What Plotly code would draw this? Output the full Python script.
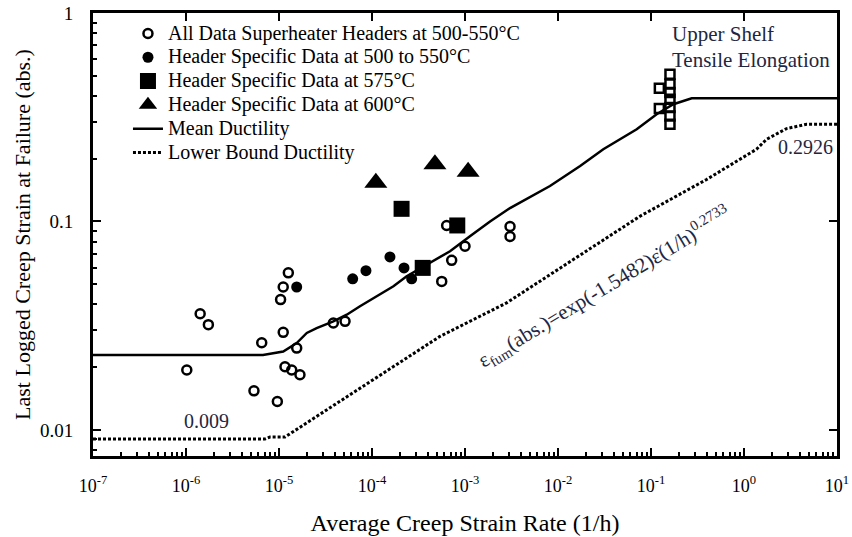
import numpy as np
import plotly.graph_objects as go

# ---------------- data ----------------
all_x = [1.02e-6, 1.42e-6, 1.74e-6, 5.38e-6, 6.52e-6, 9.6e-6, 1.26e-5, 1.11e-5, 1.04e-5,
         1.11e-5, 1.55e-5, 1.16e-5, 1.37e-5, 1.68e-5, 3.84e-5, 5.13e-5, 6.35e-4, 1.0e-3,
         7.19e-4, 5.62e-4, 3.05e-3, 3.05e-3]
all_y = [0.0194, 0.0361, 0.0320, 0.0154, 0.0262, 0.0137, 0.0567, 0.0485, 0.0422,
         0.0294, 0.0247, 0.0201, 0.0194, 0.0184, 0.0326, 0.0332, 0.0957, 0.0761,
         0.0651, 0.0516, 0.0946, 0.0847]

hs550_x = [1.55e-5, 6.20e-5, 8.61e-5, 1.56e-4, 2.21e-4, 2.67e-4]
hs550_y = [0.0485, 0.0531, 0.0581, 0.0676, 0.0599, 0.0531]

hs575_x = [2.08e-4, 8.26e-4, 3.51e-4]
hs575_y = [0.115, 0.0957, 0.0599]

hs600_x = [1.10e-4, 4.75e-4, 1.08e-3]
hs600_y = [0.1535, 0.188, 0.173]

shelf_x = [0.160, 0.160, 0.160, 0.160, 0.160, 0.160, 0.160, 0.123, 0.123]
shelf_y = [0.509, 0.456, 0.416, 0.386, 0.352, 0.321, 0.293, 0.435, 0.348]

mean_x = [1e-7, 6.73e-6, 1.11e-5, 1.55e-5, 1.99e-5, 2.54e-5, 3.84e-5, 5.35e-5, 7.43e-5,
          1.12e-4, 1.70e-4, 2.36e-4, 3.87e-4, 6.90e-4, 1.13e-3, 1.86e-3, 3.05e-3,
          8.20e-3, 0.0173, 0.0307, 0.0702, 0.115, 0.174, 0.274, 10]
mean_y = [0.0229, 0.0229, 0.0238, 0.0261, 0.0292, 0.0308, 0.0332, 0.0357, 0.0392,
          0.0438, 0.0489, 0.0546, 0.0621, 0.0720, 0.0849, 0.100, 0.116,
          0.148, 0.1845, 0.222, 0.277, 0.327, 0.365, 0.390, 0.390]

low_x = [1e-7, 7.06e-6, 8.0e-6, 1.16e-5, 4.72e-5, 5.38e-4, 2.80e-3, 0.0146, 0.0762,
         0.396, 1.36, 1.75, 2.87, 4.72, 10]
low_y = [0.00905, 0.00905, 0.00925, 0.00925, 0.0139, 0.0281, 0.0407, 0.0656, 0.106,
         0.159, 0.222, 0.248, 0.279, 0.2926, 0.2926]

x_tickvals = [1e-7, 1e-6, 1e-5, 1e-4, 1e-3, 1e-2, 1e-1, 1e0, 1e1]
x_ticktext = ["10<sup>-7</sup>", "10<sup>-6</sup>", "10<sup>-5</sup>", "10<sup>-4</sup>",
              "10<sup>-3</sup>", "10<sup>-2</sup>", "10<sup>-1</sup>", "10<sup>0</sup>",
              "10<sup>1</sup>"]
y_tickvals = [0.01, 0.1, 1]
y_ticktext = ["0.01", "0.1", "1"]

x_minor = [m * 10.0 ** e for e in range(-7, 1) for m in range(2, 10)]
y_minor = [m * 10.0 ** e for e in range(-3, 0) for m in range(2, 10)]

legend_names = ["All Data Superheater Headers at 500-550°C",
                "Header Specific Data at 500 to 550°C",
                "Header Specific Data at 575°C",
                "Header Specific Data at 600°C",
                "Mean Ductility",
                "Lower Bound Ductility"]

FONT = "Liberation Serif"
TXT = "#1f2740"


def lg(name):
    return '<span style="font-size:20px">' + name + '</span>'


fig = go.Figure()
fig.add_trace(go.Scatter(x=all_x, y=all_y, mode="markers", name=lg(legend_names[0]),
                         marker=dict(symbol="circle-open", size=9, color="black",
                                     line=dict(width=2.5, color="black"))))
fig.add_trace(go.Scatter(x=hs550_x, y=hs550_y, mode="markers", name=lg(legend_names[1]),
                         marker=dict(symbol="circle", size=11, color="black")))
fig.add_trace(go.Scatter(x=hs575_x, y=hs575_y, mode="markers", name=lg(legend_names[2]),
                         marker=dict(symbol="square", size=16, color="black")))
fig.add_trace(go.Scatter(x=hs600_x, y=hs600_y, mode="markers", name=lg(legend_names[3]),
                         marker=dict(symbol="triangle-up", size=20, color="black")))
fig.add_trace(go.Scatter(x=mean_x, y=mean_y, mode="lines", name=lg(legend_names[4]),
                         line=dict(color="black", width=2.5)))
fig.add_trace(go.Scatter(x=low_x, y=low_y, mode="lines", name=lg(legend_names[5]),
                         line=dict(color="black", width=3, dash="3px,2px")))
fig.add_trace(go.Scatter(x=shelf_x, y=shelf_y, mode="markers", showlegend=False,
                         marker=dict(symbol="square-open", size=9, color="black",
                                     line=dict(width=2.5, color="black"))))
# invisible trace to hold the mirrored top/right axes
fig.add_trace(go.Scatter(x=[1e-7], y=[1], xaxis="x2", yaxis="y2", mode="markers",
                         marker=dict(opacity=0), showlegend=False, hoverinfo="skip"))

axis_common = dict(showline=True, linewidth=3, linecolor="black", ticks="inside",
                   ticklen=8, tickwidth=2, tickcolor="black", showgrid=False,
                   zeroline=False, automargin=False)

YR = [np.log10(0.0075), 0]

fig.update_layout(
    width=852, height=537,
    margin=dict(l=93, r=15, t=13, b=81),
    paper_bgcolor="white", plot_bgcolor="white",
    font=dict(family=FONT, size=19, color="black"),
    xaxis=dict(type="log", range=[-7, 1], tickmode="array", tickvals=x_tickvals,
               ticktext=x_ticktext, tickfont=dict(size=18, color="black"),
               ticklabelstandoff=11,
               title=dict(text="Average Creep Strain Rate (1/h)", font=dict(size=24),
                          standoff=20),
               minor=dict(tickmode="array", tickvals=x_minor, ticks="inside",
                          ticklen=4, tickwidth=1.5, tickcolor="black", showgrid=False),
               **axis_common),
    yaxis=dict(type="log", range=YR, tickmode="array",
               tickvals=y_tickvals, ticktext=y_ticktext,
               tickfont=dict(size=19, color="black"), ticklabelstandoff=13,
               title=dict(text="Last Logged Creep Strain at Failure (abs.)",
                          font=dict(size=22), standoff=4),
               minor=dict(tickmode="array", tickvals=y_minor, ticks="inside",
                          ticklen=4, tickwidth=1.5, tickcolor="black", showgrid=False),
               **axis_common),
    xaxis2=dict(type="log", range=[-7, 1], overlaying="x", side="top", anchor="y2",
                tickmode="array", tickvals=x_tickvals, showticklabels=False,
                **axis_common),
    yaxis2=dict(type="log", range=YR, overlaying="y", side="right",
                anchor="x2", tickmode="array", tickvals=y_tickvals,
                showticklabels=False, **axis_common),
    legend=dict(x=0.047, y=0.992, xanchor="left", yanchor="top",
                bgcolor="rgba(0,0,0,0)", font=dict(size=16, color="black"),
                tracegroupgap=0),
    showlegend=True,
)

fig.add_annotation(x=np.log10(1.68e-6), y=np.log10(0.01105), text="0.009",
                   showarrow=False, font=dict(size=20, color=TXT),
                   xref="x", yref="y")
fig.add_annotation(x=np.log10(9.5), y=np.log10(0.227), text="0.2926",
                   showarrow=False, xanchor="right", font=dict(size=20, color=TXT),
                   xref="x", yref="y")
fig.add_annotation(x=np.log10(0.162), y=np.log10(0.79), text="Upper Shelf",
                   showarrow=False, xanchor="left", font=dict(size=21, color=TXT),
                   xref="x", yref="y")
fig.add_annotation(x=np.log10(0.162), y=np.log10(0.594), text="Tensile Elongation",
                   showarrow=False, xanchor="left", font=dict(size=21, color=TXT),
                   xref="x", yref="y")
fig.add_annotation(x=np.log10(0.032), y=np.log10(0.0487),
                   text="ε<sub>fum</sub>(abs.)=exp(-1.5482)ε̇(1/h)<sup>0.2733</sup>",
                   textangle=-31, showarrow=False, font=dict(size=21, color=TXT),
                   xref="x", yref="y")

# remove the page's default body margin so the figure fills the window exactly
fig.write_html("out.html", config={"displayModeBar": False},
               post_script="document.body.style.margin='0px';")
